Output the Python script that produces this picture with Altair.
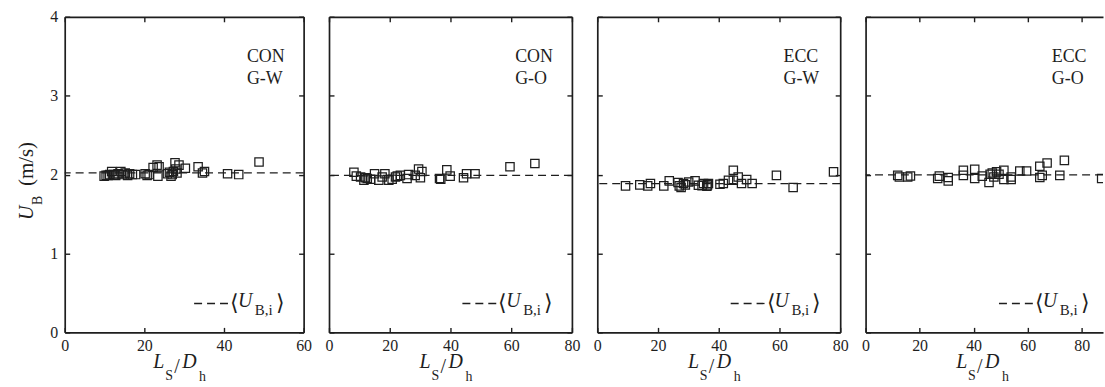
import altair as alt
import pandas as pd

FONT = "Liberation Serif"
INK = "#1e1e1e"

# ---- data (x = L_S/D_h, y = U_B in m/s) ----
p1_x = [9.9, 10.4, 10.9, 11.3, 11.8, 12.3, 12.8, 13.4, 14.1, 14.6, 15.2, 15.8, 16.3, 17.0, 17.8,
        20.2, 20.7, 21.2, 22.2, 23.2, 23.4, 23.7, 25.8, 26.3, 26.7, 27.0, 27.3, 27.7, 27.9, 28.2,
        28.7, 30.3, 33.5, 34.6, 35.1, 40.9, 43.7, 48.8]
p1_y = [1.98, 1.99, 1.99, 2.00, 2.04, 2.00, 1.99, 2.01, 2.04, 2.00, 2.02, 1.99, 2.01, 2.00, 2.00,
        2.01, 1.99, 2.00, 2.09, 2.12, 1.98, 2.10, 2.01, 2.03, 1.98, 2.00, 2.04, 2.15, 2.07, 2.02,
        2.12, 2.08, 2.10, 2.02, 2.04, 2.01, 2.00, 2.16]

p2_x = [8.2, 9.0, 10.4, 11.5, 12.0, 12.6, 13.7, 15.0, 16.4, 17.5, 18.4, 19.7, 20.8, 21.9, 22.5,
        23.5, 25.7, 26.2, 28.4, 29.5, 30.1, 30.6, 36.4, 36.8, 38.8, 39.9, 44.3, 45.3, 48.1, 59.6, 67.8]
p2_y = [2.03, 1.98, 1.97, 1.93, 1.96, 1.95, 1.94, 2.01, 1.93, 1.97, 2.01, 1.93, 1.94, 1.97, 1.98,
        1.99, 1.95, 2.00, 1.99, 2.07, 1.96, 2.04, 1.95, 1.94, 2.06, 1.98, 1.96, 2.01, 2.01, 2.10, 2.14]

p3_x = [9.3, 14.0, 16.6, 17.5, 21.9, 23.7, 26.6, 27.0, 27.6, 28.4, 29.0, 30.1, 32.2, 33.3, 34.5,
        35.0, 36.1, 36.3, 36.6, 40.4, 41.5, 43.2, 44.8, 44.8, 46.4, 47.5, 49.2, 51.0, 59.0, 64.5, 77.8]
p3_y = [1.857, 1.87, 1.857, 1.886, 1.857, 1.92, 1.90, 1.857, 1.836, 1.886, 1.87, 1.907, 1.92, 1.865, 1.86,
        1.886, 1.853, 1.87, 1.886, 1.878, 1.886, 1.928, 2.055, 1.928, 1.97, 1.886, 1.937, 1.886, 1.99, 1.836, 2.034]

p4_x = [11.9, 12.5, 15.6, 16.6, 26.7, 27.3, 30.6, 30.6, 36.2, 36.2, 40.4, 40.4, 43.2, 45.7, 46.1, 46.9,
        47.5, 48.5, 49.4, 51.2, 51.2, 53.9, 53.9, 57.1, 59.6, 64.5, 64.5, 65.4, 67.2, 71.9, 73.6, 87.4]
p4_y = [1.99, 1.97, 1.97, 1.983, 1.95, 1.98, 1.92, 1.962, 2.055, 1.99, 2.067, 1.95, 1.98, 1.90, 2.004, 2.02,
        1.97, 2.034, 2.004, 2.055, 1.937, 1.937, 1.97, 2.046, 2.046, 2.105, 1.962, 1.99, 2.147, 1.99, 2.18, 1.95]

mean_u = [2.021, 1.99, 1.886, 1.995]
case_label = ["CON", "CON", "ECC", "ECC"]
fluid_label = ["G-W", "G-O", "G-W", "G-O"]
x_domain_max = [60, 80, 80, 87.9]
x_tick_values = [[0, 20, 40, 60], [0, 20, 40, 60, 80], [0, 20, 40, 60, 80], [0, 20, 40, 60, 80]]
y_tick_values = [0, 1, 2, 3, 4]
legend_parts = ["\u27e8", "U", "B,i", "\u27e9"]
xtitle_parts = ["L", "S", "/", "D", "h"]
ytitle_parts = ["U", "B", "(m/s)"]

panel_x = [p1_x, p2_x, p3_x, p4_x]
panel_y = [p1_y, p2_y, p3_y, p4_y]

PANEL_W = [240, 244, 244, 238.5]
FULL_W = [240, 244, 244, 244]
PANEL_H = 317


def txt(s, x, y, size=18, italic=False, angle=0):
    return alt.Chart(pd.DataFrame({"t": [s]})).mark_text(
        font=FONT, fontSize=size, fontStyle="italic" if italic else "normal",
        align="left", baseline="alphabetic", angle=angle, color=INK
    ).encode(text="t:N", x=alt.value(x), y=alt.value(y))


def panel(i):
    W = PANEL_W[i]
    F = FULL_W[i]
    C = F / 2
    df = pd.DataFrame({"x": panel_x[i], "y": panel_y[i]})
    xsc = alt.Scale(domain=[0, x_domain_max[i]], nice=False, zero=False)
    ysc = alt.Scale(domain=[0, 4], nice=False, zero=False)
    base_ax = dict(domainColor=INK, domainWidth=1.7, tickColor=INK, tickWidth=1.4,
                   tickSize={"expr": "-5"}, grid=False, title=None,
                   labelFont=FONT, labelFontSize=16, labelColor=INK)
    x_bottom = alt.Axis(orient="bottom", values=x_tick_values[i], format="d", labelPadding=10,
                        labelFlush=False, labelOverlap=False, **base_ax)
    y_left = alt.Axis(orient="left", values=y_tick_values, format="d", labelPadding=12,
                      labels=(i == 0), labelOverlap=False, **base_ax)
    x_top = alt.Axis(orient="top", values=x_tick_values[i], labels=False, **base_ax)

    pts = alt.Chart(df).mark_point(
        shape="square", size=70, filled=False, color=INK, strokeWidth=1.25, opacity=1, clip=True
    ).encode(x=alt.X("x:Q", scale=xsc, axis=x_bottom), y=alt.Y("y:Q", scale=ysc, axis=y_left))

    if i < 3:
        y_right_enc = alt.Y("y:Q", scale=ysc,
                            axis=alt.Axis(orient="right", values=y_tick_values, labels=False, **base_ax))
    else:
        y_right_enc = alt.Y("y:Q", scale=ysc, axis=None)
    ghost = alt.Chart(df).mark_point(opacity=0, clip=True).encode(
        x=alt.X("x:Q", scale=xsc, axis=x_top), y=y_right_enc)

    meanline = alt.Chart(pd.DataFrame({"m": [mean_u[i]]})).mark_rule(
        strokeDash=[8, 5], color=INK, strokeWidth=1.3
    ).encode(y=alt.Y("m:Q", scale=ysc, axis=None))

    legend_rule = alt.Chart(pd.DataFrame({"m": [mean_u[i]]})).mark_rule(
        strokeDash=[8, 5], color=INK, strokeWidth=1.3
    ).encode(x=alt.value(F - 110), x2=alt.value(F - 75), y=alt.value(288))

    texts = [
        txt(case_label[i], F - 57, 45, 18),
        txt(fluid_label[i], F - 57, 68, 18),
        txt(legend_parts[0], F - 74, 295, 22),
        txt(legend_parts[1], F - 66, 292, 20, italic=True),
        txt(legend_parts[2], F - 49, 300, 15),
        txt(legend_parts[3], F - 28, 295, 22),
        txt(xtitle_parts[0], C - 31, 353, 20, italic=True),
        txt(xtitle_parts[1], C - 19, 365, 14),
        txt(xtitle_parts[2], C - 10, 358, 20),
        txt(xtitle_parts[3], C - 2, 353, 20, italic=True),
        txt(xtitle_parts[4], C + 15, 366, 14),
    ]
    if i == 0:
        texts += [
            txt(ytitle_parts[0], -32, 204, 20, italic=True, angle=270),
            txt(ytitle_parts[1], -23, 189, 14, angle=270),
            txt(ytitle_parts[2], -32, 170, 21, angle=270),
        ]

    return alt.layer(pts, ghost, meanline, legend_rule, *texts).resolve_axis(
        x="independent", y="independent"
    ).properties(width=W, height=PANEL_H)


chart = alt.hconcat(*[panel(i) for i in range(4)], spacing=25.5, bounds="flush").configure_view(
    stroke="transparent"
).properties(
    padding={"left": 15, "top": 7, "right": 0, "bottom": 0},
    background="white",
)

chart.save("out.html", embed_options={"renderer": "svg", "actions": False})
